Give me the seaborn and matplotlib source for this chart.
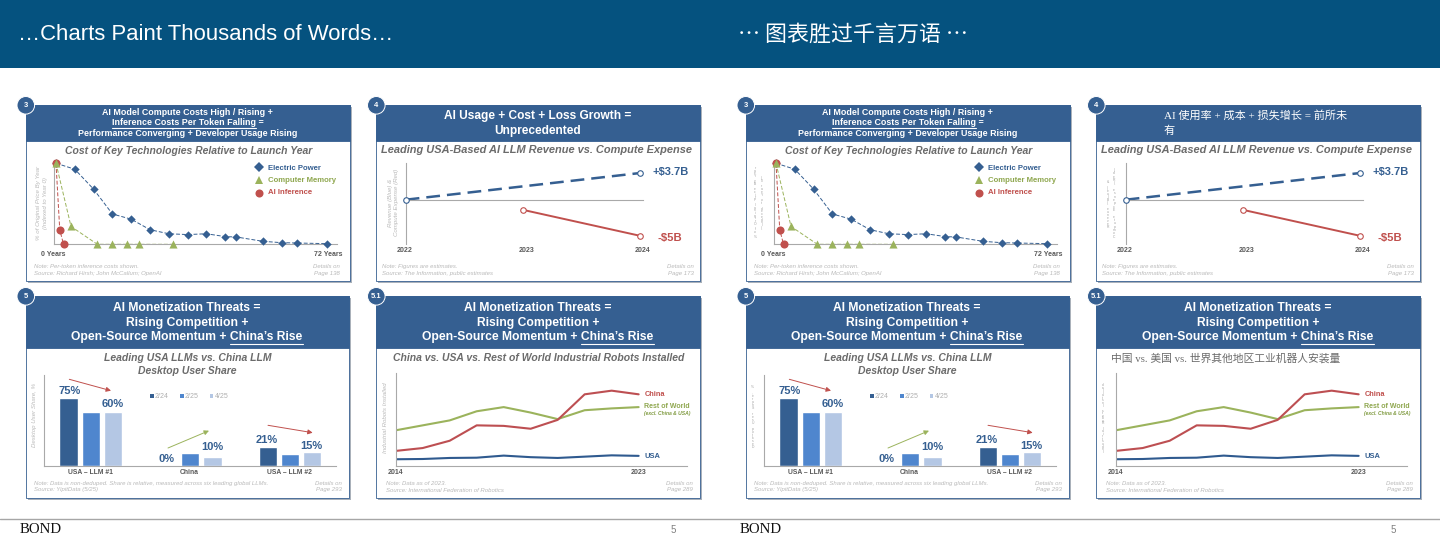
import matplotlib
matplotlib.use("Agg")
import matplotlib.pyplot as plt
import pandas as pd
import seaborn as sns
from matplotlib.patches import Rectangle, Circle

# chart 3: cost of key technologies (years since launch, % of launch price)
power_years = [0, 5, 10, 15, 20, 25, 30, 35, 40, 45, 48, 55, 60, 64, 72]
power_cost = [100, 92.6, 68, 37.4, 31, 18, 13, 12, 13, 9.5, 9, 3.7, 2, 1.6, 0.8]
memory_years = [0, 4, 11, 15, 19, 22, 31]
memory_cost = [100, 22, 0, 0, 0, 0, 0]
inference_years = [0, 1, 2]
inference_cost = [100, 18, 0]

# chart 4: revenue vs compute expense ($B)
revenue_years = [2022, 2024]
revenue_values = [0, 3.7]
expense_years = [2023, 2024]
expense_values = [-1.4, -5]

# chart 5: desktop user share
llm_groups = ["USA – LLM #1", "China", "USA – LLM #2"]
share_periods = ["2/24", "2/25", "4/25"]
share_feb24 = [75, 0, 21]
share_feb25 = [60, 14, 13]
share_apr25 = [60, 10, 15]

# chart 5.1: industrial robots installed (thousands, estimated)
robot_years = [2014, 2015, 2016, 2017, 2018, 2019, 2020, 2021, 2022, 2023]
robots_china = [59, 70, 98, 157, 155, 144, 178, 276, 290, 276]
robots_rest = [138, 157, 176, 211, 227, 206, 181, 215, 222, 227]
robots_usa = [27, 28, 32, 33, 41, 35, 32, 37, 42, 40]

BANNER = "#05527f"
BLUE = "#355f91"
MID_BLUE = "#4f86ce"
PALE_BLUE = "#b4c7e4"
RED = "#c0504d"
GREEN = "#9bb35c"
GREY = "#595959"
LIGHT = "#b9b9b9"
AXIS = "#a9a9a9"
SANS = "Liberation Sans"
ZH = ["Liberation Serif", "Noto Sans CJK SC"]

sns.set_theme(style="white")
plt.rcParams["font.family"] = [SANS, "Noto Sans CJK SC"]

fig = plt.figure(figsize=(14.4, 5.4), dpi=100)
fig.patch.set_facecolor("white")


# full page axes working in pixels, one behind the charts and one in front
def page_axes(zorder):
    ax = fig.add_axes([0, 0, 1, 1], zorder=zorder)
    ax.set_xlim(0, 1440)
    ax.set_ylim(540, 0)
    ax.axis("off")
    ax.patch.set_alpha(0)
    return ax


back = page_axes(0)
top = page_axes(5)


def chart_axes(left, right, ytop, ybottom):
    ax = fig.add_axes([left / 1440, 1 - ybottom / 540, (right - left) / 1440, (ybottom - ytop) / 540], zorder=2)
    ax.patch.set_alpha(0)
    sns.despine(ax=ax)
    for side in ["left", "bottom"]:
        ax.spines[side].set_color(AXIS)
        ax.spines[side].set_linewidth(0.8)
    ax.tick_params(length=0, labelbottom=False, labelleft=False)
    ax.set_xlabel("")
    ax.set_ylabel("")
    return ax


def label(x, y, s, size, color=GREY, weight="normal", style="normal", ha="center", va="center", **kw):
    return top.text(x, y, s, fontsize=size, color=color, fontweight=weight, fontstyle=style, ha=ha, va=va, **kw)


def text_width(s, size, weight="bold", style="normal"):
    t = top.text(0, 0, s, fontsize=size, fontweight=weight, fontstyle=style)
    w = t.get_window_extent(fig.canvas.get_renderer()).width
    t.remove()
    return w


def header_line(cx, y, s, size, part=None):
    label(cx, y, s, size, "white", "bold")
    if part:
        # matplotlib has no underline so work it out from the text widths
        after = s[s.index(part) + len(part):]
        total = text_width(s, size)
        start = cx - total / 2 + total - text_width(part + after, size)
        top.plot([start, start + text_width(part, size)], [y + size * 0.8] * 2, color="white", lw=0.8)


def card(x0, x1, y0, y_head, y1, badge):
    back.add_patch(Rectangle((x0 + 2, y0 + 2), x1 - x0, y1 - y0, fc="#aab1ba", ec="none"))
    back.add_patch(Rectangle((x0, y0), x1 - x0, y1 - y0, fc="white", ec=BLUE, lw=0.6))
    back.add_patch(Rectangle((x0, y0), x1 - x0, y_head - y0, fc=BLUE, ec=BLUE, lw=0.6))
    top.add_patch(Circle((x0 + 0.3, y0 + 0.3), 8.8, fc=BLUE, ec="white", lw=0.7))
    label(x0 + 0.3, y0 + 0.3, badge, 5.4, "white", "bold")


def notes(x_left, x_right, y0, y1, note, source, page):
    label(x_left, y0, note, 4.3, LIGHT, style="italic", ha="left")
    label(x_left, y1, source, 4.3, LIGHT, style="italic", ha="left")
    label(x_right, y0, "Details on", 4.3, LIGHT, style="italic", ha="right")
    label(x_right, y1, page, 4.3, LIGHT, style="italic", ha="right")


# the translated slides turn the y titles into tiny upright letters, bottom to top
def stacked(x, y_top, y_bottom, s):
    step = (y_bottom - y_top) / (len(s) - 1)
    for i, ch in enumerate(s):
        label(x, y_bottom - i * step, ch, 2.4, "#a0a0a0")


def draw_costs(dx, translated):
    card(dx + 25.5, dx + 350, 105, 141, 281, "3")
    header_line(dx + 187.5, 112.7, "AI Model Compute Costs High / Rising +", 6.4)
    header_line(dx + 187.5, 122.9, "Inference Costs Per Token Falling =", 6.4, "Inference Costs Per Token Falling")
    header_line(dx + 187.5, 133.7, "Performance Converging + Developer Usage Rising", 6.4)
    label(dx + 189, 151.3, "Cost of Key Technologies Relative to Launch Year", 7.5, "#6b6b6b", "bold", "italic")

    ax = chart_axes(dx + 54.3, dx + 336.7, 160, 244.3)
    sns.lineplot(x=power_years, y=power_cost, ax=ax, color=BLUE, lw=0.7, linestyle=(0, (4, 2)), errorbar=None)
    sns.lineplot(x=memory_years, y=memory_cost, ax=ax, color=GREEN, lw=0.7, linestyle=(0, (4, 2)), errorbar=None)
    sns.lineplot(x=inference_years, y=inference_cost, ax=ax, color=RED, lw=0.7, linestyle=(0, (4, 2)), errorbar=None)
    sns.scatterplot(x=power_years, y=power_cost, ax=ax, color=BLUE, marker="D", s=18, linewidth=0, clip_on=False, zorder=3)
    sns.scatterplot(x=inference_years, y=inference_cost, ax=ax, color=RED, marker="o", s=34, linewidth=0, clip_on=False, zorder=4)
    sns.scatterplot(x=memory_years, y=memory_cost, ax=ax, color=GREEN, marker="^", s=34, linewidth=0, clip_on=False, zorder=5)
    ax.set_xlim(-0.45, 74.65)
    ax.set_ylim(0, 104)
    ax.set_xlabel("")
    ax.set_ylabel("")

    label(dx + 53.3, 254.7, "0 Years", 5, weight="bold")
    label(dx + 328, 254.7, "72 Years", 5, weight="bold")
    top.plot(dx + 258.7, 166.7, marker="D", ms=5.4, color=BLUE, mew=0)
    top.plot(dx + 258.7, 180.3, marker="^", ms=5.8, color=GREEN, mew=0)
    top.plot(dx + 258.7, 193, marker="o", ms=5.8, color=RED, mew=0)
    label(dx + 268.3, 168, "Electric Power", 5.6, BLUE, "bold", ha="left")
    label(dx + 268.3, 180.3, "Computer Memory", 5.6, "#8fa74f", "bold", ha="left")
    label(dx + 268.3, 193, "AI Inference", 5.6, RED, "bold", ha="left")

    if translated:
        stacked(dx + 35, 168, 237, "% of Original Price By Year")
        stacked(dx + 41.7, 178, 228, "(Indexed to Year 0)")
    else:
        label(dx + 38.3, 203, "% of Original Price By Year", 4.4, LIGHT, style="italic", rotation=90)
        label(dx + 45.7, 203, "(Indexed to Year 0)", 4.4, LIGHT, style="italic", rotation=90)
    notes(dx + 34, dx + 340, 266.7, 273.7, "Note: Per-token inference costs shown.",
          "Source: Richard Hirsh; John McCallum; OpenAI", "Page 138")


def draw_losses(dx, translated):
    card(dx + 376, dx + 700, 105, 141, 281, "4")
    if translated:
        label(dx + 444, 115.5, "AI 使用率 + 成本 + 损失增长 = 前所未", 8, "white", ha="left", family=ZH)
        label(dx + 444, 130.5, "有", 8, "white", ha="left", family=ZH)
    else:
        header_line(dx + 538, 116, "AI Usage + Cost + Loss Growth =", 8.6)
        header_line(dx + 538, 130.7, "Unprecedented", 8.6)
    label(dx + 536.7, 150, "Leading USA-Based AI LLM Revenue vs. Compute Expense", 7.9, "#6b6b6b", "bold", "italic")

    ax = chart_axes(dx + 405.7, dx + 642.7, 162.7, 244)
    ax.spines["bottom"].set_position(("data", 0))
    sns.lineplot(x=revenue_years, y=revenue_values, ax=ax, color=BLUE, lw=1.8, linestyle=(0, (5.5, 2.8)),
                 errorbar=None)
    sns.lineplot(x=expense_years, y=expense_values, ax=ax, color=RED, lw=1.4, errorbar=None)
    sns.scatterplot(x=revenue_years, y=revenue_values, ax=ax, color="white", edgecolor=BLUE, linewidth=0.8, s=16,
                    clip_on=False, zorder=4)
    sns.scatterplot(x=expense_years, y=expense_values, ax=ax, color="white", edgecolor=RED, linewidth=0.8, s=16,
                    clip_on=False, zorder=4)
    ax.set_xlim(2022, 2024.026)
    ax.set_ylim(-6.15, 5.14)
    ax.set_xlabel("")
    ax.set_ylabel("")

    label(dx + 404.7, 250.3, "2022", 5, weight="bold")
    label(dx + 527, 250.3, "2023", 5, weight="bold")
    label(dx + 642.7, 250.3, "2024", 5, weight="bold")
    label(dx + 670.7, 172.3, "+$3.7B", 8, BLUE, "bold")
    label(dx + 670, 238.3, "-$5B", 8.2, RED, "bold")

    if translated:
        stacked(dx + 387.7, 181.7, 226.7, "Revenue (Blue) &")
        stacked(dx + 394.3, 170, 236.7, "Compute Expense (Red)")
    else:
        label(dx + 390.3, 202.5, "Revenue (Blue) &", 4.4, LIGHT, style="italic", rotation=90)
        label(dx + 396.7, 202.5, "Compute Expense (Red)", 4.4, LIGHT, style="italic", rotation=90)
    notes(dx + 382.3, dx + 694, 266.7, 273.7, "Note: Figures are estimates.",
          "Source: The Information, public estimates", "Page 173")


def threats_header(cx):
    header_line(cx, 307.7, "AI Monetization Threats =", 8.7)
    header_line(cx, 322.7, "Rising Competition +", 8.7)
    header_line(cx, 336.7, "Open-Source Momentum + China’s Rise", 8.7, "China’s Rise")


def draw_share(dx, translated):
    card(dx + 25.5, dx + 349, 296, 348, 498, "5")
    threats_header(dx + 187)
    label(dx + 187.3, 358, "Leading USA LLMs vs. China LLM", 7.5, "#6b6b6b", "bold", "italic")
    label(dx + 187.3, 371, "Desktop User Share", 7.5, "#6b6b6b", "bold", "italic")

    share = pd.DataFrame({
        "group": llm_groups * 3,
        "period": [p for p in share_periods for _ in llm_groups],
        "share": share_feb24 + share_feb25 + share_apr25,
    })
    ax = chart_axes(dx + 44.3, dx + 335.7, 375, 465.7)
    sns.barplot(data=share, x="group", y="share", hue="period", ax=ax, palette=[BLUE, MID_BLUE, PALE_BLUE],
                width=0.667, gap=0.18, saturation=1, legend=False, errorbar=None)
    ax.set_xlim(-0.4655, 2.458)
    ax.set_ylim(0, 100.5)
    ax.set_xlabel("")
    ax.set_ylabel("")

    for x, y, s in [(69.3, 391, "75%"), (112.3, 404, "60%"), (166.7, 459, "0%"), (212, 447, "10%"),
                    (266.7, 440, "21%"), (311, 446, "15%")]:
        label(dx + x, y, s, 8, BLUE, "bold")
    for name, x in zip(llm_groups, [90, 189, 289.5]):
        label(dx + x, 472.3, name, 4.9, weight="bold")

    for x0, y0, x1, y1, color in [(69.3, 379.3, 111, 390.7, RED), (168, 448, 209, 430.7, GREEN),
                                  (268, 425.3, 312.7, 432.7, RED)]:
        top.annotate("", xy=(dx + x1, y1), xytext=(dx + x0, y0),
                     arrowprops=dict(arrowstyle="-|>", color=color, lw=0.7, mutation_scale=7, shrinkA=0, shrinkB=0))

    for x, s, color in [(150, share_periods[0], BLUE), (180, share_periods[1], MID_BLUE),
                        (209.7, share_periods[2], PALE_BLUE)]:
        top.add_patch(Rectangle((dx + x, 394), 3.7, 3.7, fc=color, ec="none"))
        label(dx + x + 5, 396, s, 5, "#b0b0b0", ha="left")

    if translated:
        stacked(dx + 32.7, 386.7, 446.7, "Desktop User Share, %")
    else:
        label(dx + 34.7, 415.3, "Desktop User Share, %", 4.4, LIGHT, style="italic", rotation=90)
    notes(dx + 34.3, dx + 342.3, 483.7, 490,
          "Note: Data is non-deduped. Share is relative, measured across six leading global LLMs.",
          "Source: YipitData (5/25)", "Page 293")


def draw_robots(dx, translated):
    card(dx + 376, dx + 700, 296, 348, 498, "5.1")
    threats_header(dx + 538)
    if translated:
        label(dx + 391, 358.3, "中国 vs. 美国 vs. 世界其他地区工业机器人安装量", 7.75, "#6b6b6b", ha="left", family=ZH)
    else:
        label(dx + 538.7, 358.3, "China vs. USA vs. Rest of World Industrial Robots Installed", 7.5, "#6b6b6b",
              "bold", "italic")

    ax = chart_axes(dx + 395.7, dx + 686.7, 373.3, 466.3)
    sns.lineplot(x=robot_years, y=robots_usa, ax=ax, color="#2f5a8f", lw=1.5, errorbar=None)
    sns.lineplot(x=robot_years, y=robots_rest, ax=ax, color=GREEN, lw=1.5, errorbar=None)
    sns.lineplot(x=robot_years, y=robots_china, ax=ax, color="#bd4f52", lw=1.5, errorbar=None)
    ax.set_xlim(2014, 2024.78)
    ax.set_ylim(0, 356.6)
    ax.set_xlabel("")
    ax.set_ylabel("")

    label(dx + 395, 472.5, "2014", 5, weight="bold")
    label(dx + 638.7, 472.5, "2023", 5, weight="bold")
    label(dx + 644.3, 394.7, "China", 5.3, RED, "bold", ha="left")
    label(dx + 644.3, 406.7, "Rest of World", 5, "#8fa74f", "bold", ha="left")
    label(dx + 644.3, 413.5, "(excl. China & USA)", 3.6, "#7f9a3f", "bold", "italic", ha="left")
    label(dx + 644.3, 456.3, "USA", 5.4, BLUE, "bold", ha="left")

    if translated:
        stacked(dx + 382.7, 385, 451.7, "Industrial Robots Installed")
    else:
        label(dx + 385.7, 417.8, "Industrial Robots Installed", 4.4, LIGHT, style="italic", rotation=90)
    notes(dx + 385.7, dx + 693.3, 483.7, 490, "Note: Data as of 2023.",
          "Source: International Federation of Robotics", "Page 289")


# banner and footer of the page
back.add_patch(Rectangle((0, 0), 1440, 68, fc=BANNER, ec="none"))
back.plot([0, 1440], [519, 519], color="#a6a6a6", lw=1)
label(18, 34, "…Charts Paint Thousands of Words…", 15.9, "white", ha="left")
label(738, 35, "… 图表胜过千言万语 …", 15.8, "white", ha="left", family=["Noto Sans CJK SC", "DejaVu Sans"])
for x_bond, x_page in [(20, 673), (740, 1393)]:
    label(x_bond, 529.5, "BOND", 10.7, "#111111", ha="left", family="Liberation Serif")
    label(x_page, 530, "5", 7, "#808080")

# the slide is the same twice, the second copy translated
for dx, translated in [(0, False), (720, True)]:
    draw_costs(dx, translated)
    draw_losses(dx, translated)
    draw_share(dx, translated)
    draw_robots(dx, translated)

fig.savefig("out.png", dpi=100)
